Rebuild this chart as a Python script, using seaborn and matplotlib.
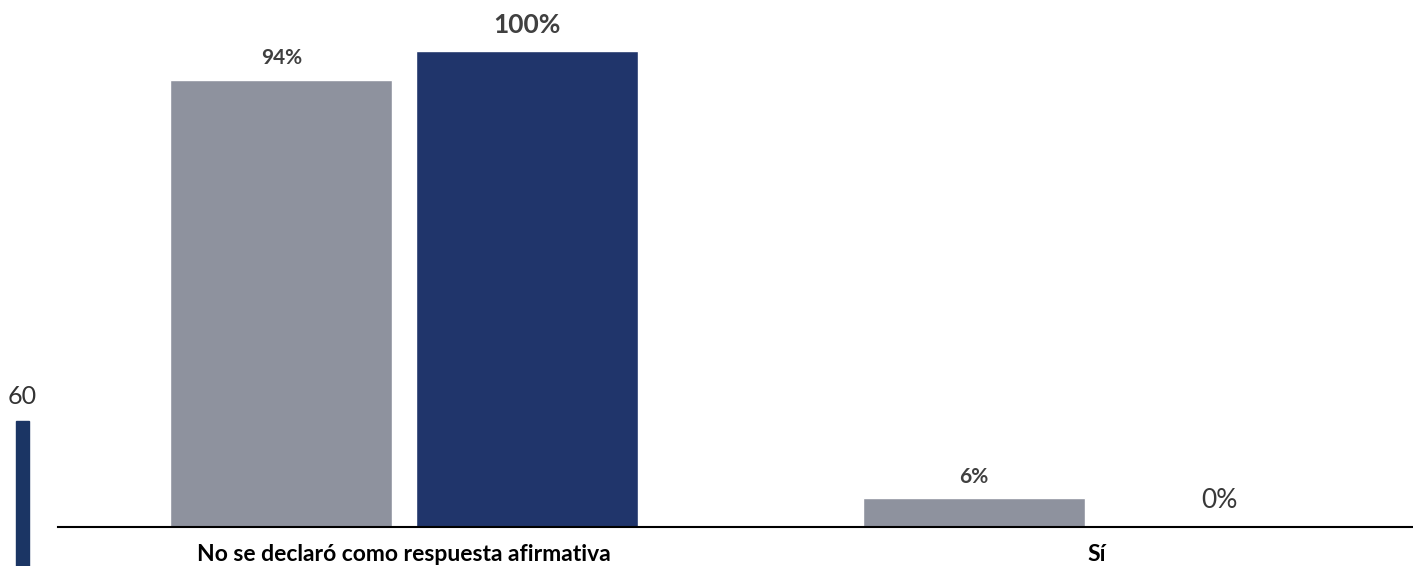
import pandas as pd
import matplotlib.pyplot as plt
import seaborn as sns
from matplotlib.patches import Rectangle

# Data
categories = ['No se declaró como respuesta afirmativa', 'Sí']
series = ['Grupo A', 'Grupo B']
values_a = [94, 6]
values_b = [100, 0]
colors = ['#8E929E', '#20356B']

df = pd.DataFrame({
    'categoria': categories * 2,
    'serie': [series[0]] * 2 + [series[1]] * 2,
    'valor': values_a + values_b,
})

sns.set_theme(style='white')
plt.rcParams['font.family'] = ['Lato', 'DejaVu Sans']

fig = plt.figure(figsize=(14.13, 5.66), dpi=100)
ax = fig.add_axes([58 / 1413, 39 / 566, 1355 / 1413, 527 / 566])

sns.barplot(data=df, x='categoria', y='valor', hue='serie', order=categories,
            hue_order=series, palette=colors, width=0.71, gap=0.096,
            saturation=1, legend=False, ax=ax)

ax.set_xlim(-0.5, 1.457)
ax.set_ylim(0, 110.7)
ax.set_xlabel('')
ax.set_ylabel('')
ax.set_yticks([])
for s in ['top', 'right', 'left']:
    ax.spines[s].set_visible(False)
ax.spines['bottom'].set_color('black')
ax.spines['bottom'].set_linewidth(1.5)
ax.tick_params(axis='x', length=0, pad=12)
for lbl in ax.get_xticklabels():
    lbl.set_fontweight('bold')
    lbl.set_fontsize(16.5)
    lbl.set_color('black')

# value labels
ax.bar_label(ax.containers[0], labels=[f'{v}%' for v in values_a],
             padding=8, fontsize=15, fontweight='bold', color='#404040')
lbls_b = ax.bar_label(ax.containers[1], labels=[f'{v}%' for v in values_b],
                      padding=10, fontsize=19, fontweight='bold', color='#404040')
lbls_b[1].set_fontweight('normal')
lbls_b[1].set_color('#383838')
lbls_b[1].set_position((0, 10))

# stray element at the left edge of the original
fig.text(22 / 1413, 1 - 397 / 566, '60', fontsize=18, color='#333333',
         ha='center', va='center')
fig.patches.append(Rectangle((16 / 1413, 0), 13 / 1413, 145 / 566,
                             transform=fig.transFigure, color='#1B3564'))

fig.savefig('out.png', dpi=100)
